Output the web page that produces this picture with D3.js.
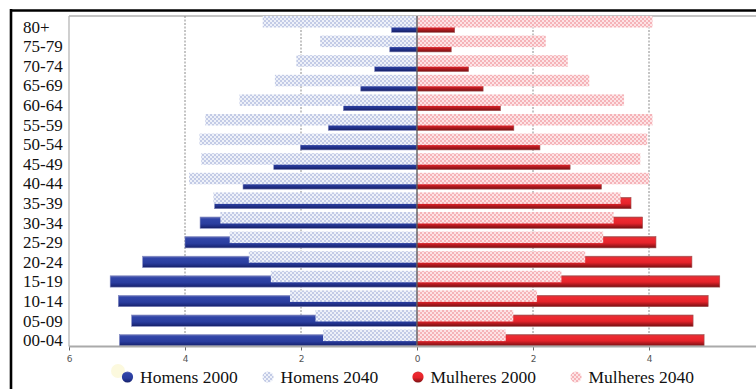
<!DOCTYPE html>
<html>
<head>
<meta charset="utf-8">
<script src="https://cdn.jsdelivr.net/npm/d3@7"></script>
<style>
  html, body { margin: 0; padding: 0; background: #fff; }
  svg { display: block; }
</style>
</head>
<body>
<svg id="chart" width="756" height="389"></svg>
<script>
const categories = ["80+","75-79","70-74","65-69","60-64","55-59","50-54","45-49","40-44","35-39","30-34","25-29","20-24","15-19","10-14","05-09","00-04"];
const homens2000   = [0.44,0.47,0.73,0.97,1.27,1.53,2.01,2.47,3.00,3.49,3.74,4.00,4.73,5.29,5.15,4.92,5.13];
const homens2040   = [2.66,1.67,2.08,2.45,3.06,3.65,3.75,3.72,3.93,3.51,3.39,3.23,2.90,2.52,2.19,1.75,1.62];
const mulheres2000 = [0.65,0.59,0.89,1.14,1.44,1.67,2.12,2.64,3.18,3.69,3.89,4.12,4.74,5.22,5.02,4.76,4.95];
const mulheres2040 = [4.06,2.22,2.60,2.97,3.57,4.06,3.97,3.85,4.00,3.51,3.39,3.21,2.90,2.49,2.07,1.66,1.53];
const tickValues = [-6,-4,-2,0,2,4];
const gridValues = [-4,-2,2,4];
const legendLabels = ["Homens 2000","Homens 2040","Mulheres 2000","Mulheres 2040"];

const svg = d3.select("#chart");
const defs = svg.append("defs");

// gradients
const gBlue = defs.append("linearGradient").attr("id","gBlue").attr("x1",0).attr("y1",0).attr("x2",0).attr("y2",1);
[[0,"#6a74b8"],[0.18,"#3145a8"],[0.6,"#2a3d9e"],[0.85,"#1d2b80"],[1,"#161f60"]].forEach(s=>gBlue.append("stop").attr("offset",s[0]).attr("stop-color",s[1]));
const gRed = defs.append("linearGradient").attr("id","gRed").attr("x1",0).attr("y1",0).attr("x2",0).attr("y2",1);
[[0,"#c23a3e"],[0.18,"#ee2a31"],[0.55,"#e5232a"],[0.8,"#a8181d"],[1,"#761012"]].forEach(s=>gRed.append("stop").attr("offset",s[0]).attr("stop-color",s[1]));

// checker patterns
function checker(id, c1, c2){
  const p = defs.append("pattern").attr("id",id).attr("patternUnits","userSpaceOnUse").attr("width",4).attr("height",4);
  p.append("rect").attr("width",4).attr("height",4).attr("fill",c2);
  p.append("rect").attr("width",2).attr("height",2).attr("fill",c1);
  p.append("rect").attr("x",2).attr("y",2).attr("width",2).attr("height",2).attr("fill",c1);
}
checker("pBlue","#c3cbe6","#eef1f9");
checker("pPink","#f5b3b8","#fde3e5");

const x = d3.scaleLinear().domain([-6,6]).range([69,765]);
const y = d3.scaleBand().domain(categories).range([16,16+17*19.6]).paddingInner(0).paddingOuter(0);

const plotTop = 16, plotBottom = 346.5, plotLeft = 69, plotRight = 756;

// frame
svg.append("line").attr("x1",10).attr("x2",756).attr("y1",10.5).attr("y2",10.5).attr("stroke","#000").attr("stroke-width",2.6);
svg.append("line").attr("x1",11).attr("x2",11).attr("y1",9).attr("y2",389).attr("stroke","#000").attr("stroke-width",2.6);

// plot borders
svg.append("line").attr("x1",plotLeft).attr("x2",plotRight).attr("y1",plotTop).attr("y2",plotTop).attr("stroke","#b0b0b0").attr("stroke-width",1.5);
svg.append("line").attr("x1",plotLeft).attr("x2",plotLeft).attr("y1",plotTop).attr("y2",plotBottom).attr("stroke","#b0b0b0").attr("stroke-width",1.2);

// grid
svg.append("g").selectAll("line").data(gridValues).join("line")
  .attr("x1",d=>x(d)).attr("x2",d=>x(d)).attr("y1",plotTop).attr("y2",plotBottom)
  .attr("stroke","#8a8a8a").attr("stroke-width",1).attr("stroke-dasharray","2,1.5");

const rows = categories.map((c,i)=>({c, h0:homens2000[i], h4:homens2040[i], m0:mulheres2000[i], m4:mulheres2040[i]}));

const solidOff = 5, solidH = 11.3, patH = 11.5;
const bars = svg.append("g");
// solid 2000 bars
bars.selectAll("rect.h0").data(rows).join("rect").attr("class","h0")
  .attr("x",d=>x(-d.h0)).attr("width",d=>x(0)-x(-d.h0))
  .attr("y",d=>y(d.c)+solidOff).attr("height",solidH)
  .attr("fill","url(#gBlue)").attr("stroke","#8088c0").attr("stroke-width",0.6);
bars.selectAll("rect.m0").data(rows).join("rect").attr("class","m0")
  .attr("x",x(0)).attr("width",d=>x(d.m0)-x(0))
  .attr("y",d=>y(d.c)+solidOff).attr("height",solidH)
  .attr("fill","url(#gRed)").attr("stroke","#a05050").attr("stroke-width",0.6);
// pattern 2040 bars
bars.selectAll("rect.h4").data(rows).join("rect").attr("class","h4")
  .attr("x",d=>x(-d.h4)).attr("width",d=>x(0)-x(-d.h4))
  .attr("y",d=>y(d.c)).attr("height",patH)
  .attr("fill","url(#pBlue)");
bars.selectAll("rect.m4").data(rows).join("rect").attr("class","m4")
  .attr("x",x(0)).attr("width",d=>x(d.m4)-x(0))
  .attr("y",d=>y(d.c)).attr("height",patH)
  .attr("fill","url(#pPink)");

// zero line
svg.append("line").attr("x1",x(0)).attr("x2",x(0)).attr("y1",plotTop).attr("y2",plotBottom).attr("stroke","#555").attr("stroke-width",1.3);

// bottom axis
const xAxis = d3.axisBottom(x).tickValues(tickValues).tickSize(4).tickPadding(5).tickFormat(d=>Math.abs(d));
const ax = svg.append("g").attr("transform",`translate(0,${plotBottom})`).call(xAxis);
ax.select(".domain").remove();
ax.selectAll(".tick line").attr("stroke","#666");
ax.selectAll(".tick text").attr("fill","#555").style("font-family","'DejaVu Sans', sans-serif").style("font-size","9px");
svg.append("line").attr("x1",plotLeft).attr("x2",plotRight).attr("y1",plotBottom).attr("y2",plotBottom).attr("stroke","#aaa").attr("stroke-width",2);

// category labels
svg.append("g").selectAll("text").data(categories).join("text")
  .attr("x",23).attr("y",d=>y(d)+11).attr("dominant-baseline","central")
  .style("font-family","'Liberation Serif','Times New Roman',serif").style("font-size","17px").attr("fill","#111")
  .text(d=>d);

// legend
const legendX = [127.5, 268, 418, 576];
const legendFill = ["url(#gBlue)","url(#pBlue)","url(#gRed)","url(#pPink)"];
svg.append("circle").attr("cx",118).attr("cy",371).attr("r",7).attr("fill","#fbf7d6").attr("opacity",0.8);
const lg = svg.append("g");
legendLabels.forEach((t,i)=>{
  lg.append("circle").attr("cx",legendX[i]).attr("cy",377).attr("r",5.6).attr("fill",legendFill[i]);
  lg.append("text").attr("x",legendX[i]+12.5).attr("y",377).attr("dominant-baseline","central")
    .style("font-family","'Liberation Serif','Times New Roman',serif").style("font-size","17.5px").attr("fill","#111").text(t);
});
</script>
</body>
</html>
